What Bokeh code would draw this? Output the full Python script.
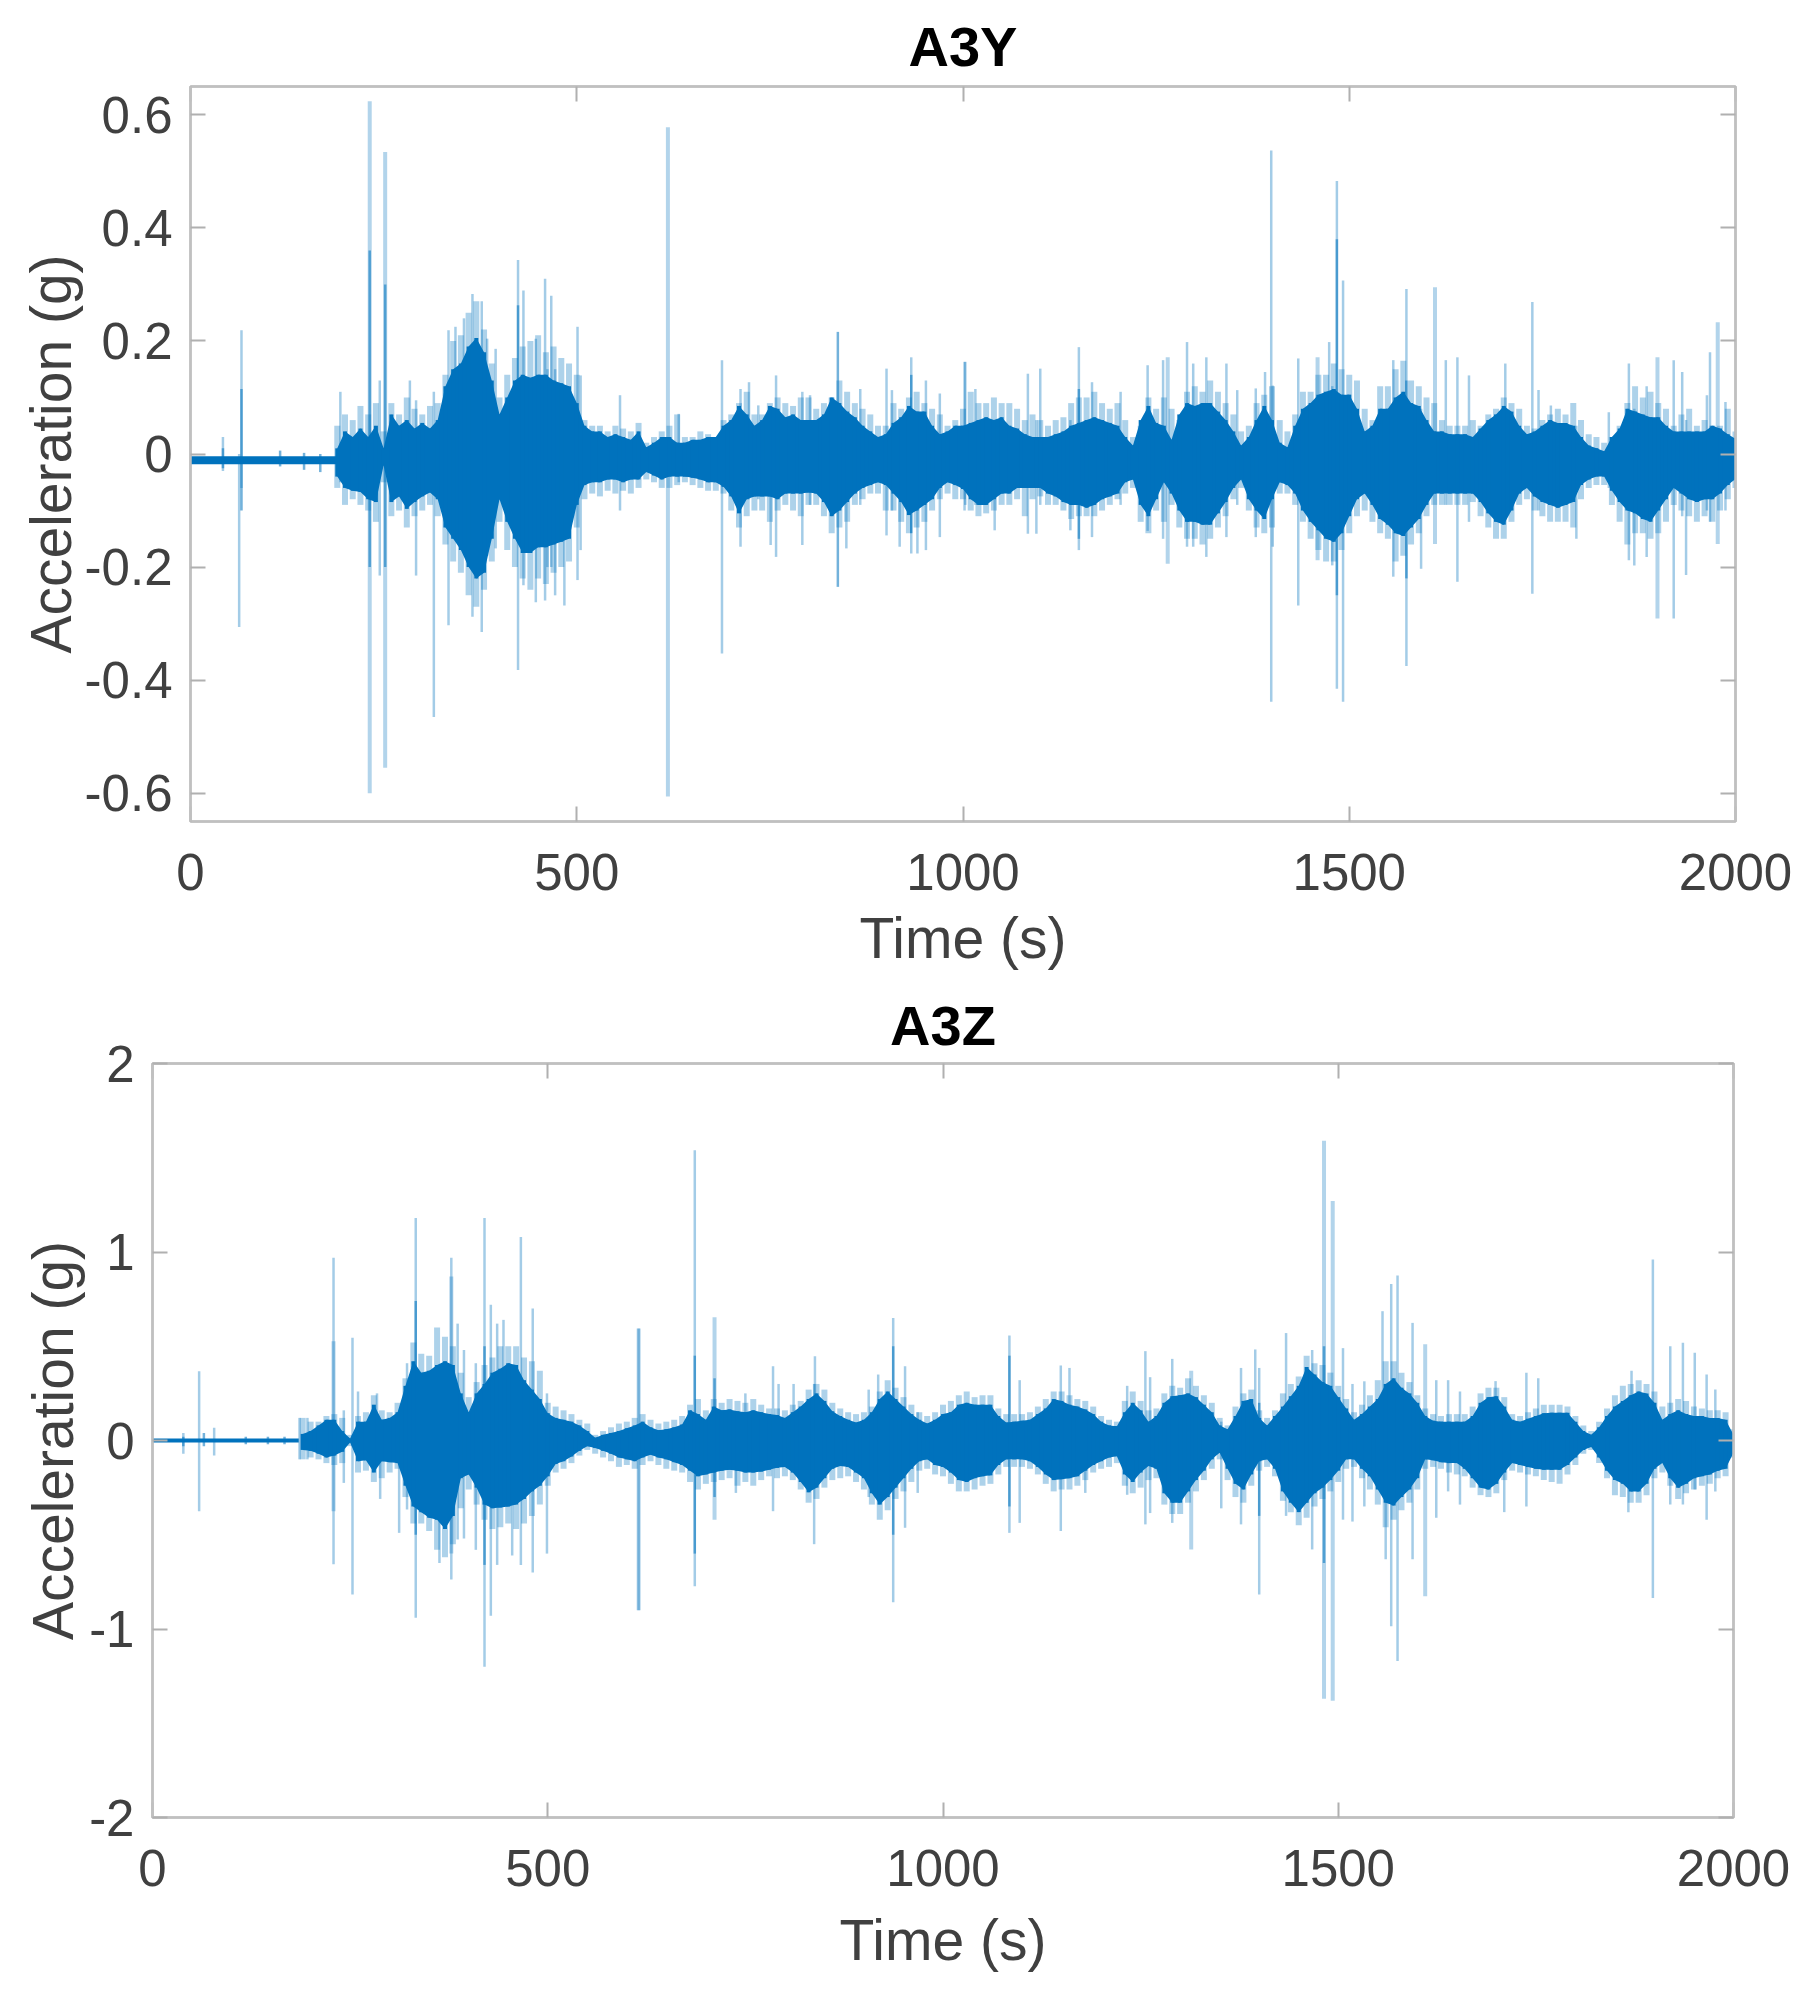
from bokeh.embed import file_html
from bokeh.resources import INLINE
from bokeh.plotting import figure
from bokeh.layouts import column, row
from bokeh.models import LinearAxis, FixedTicker, Range1d

BLUE = "#0072BD"
X_TICKS = [0, 500, 1000, 1500, 2000]
X_LABELS = ["0", "500", "1000", "1500", "2000"]
ENV_T = list(range(190, 2001, 10))

# ---------- A3Y ----------
Y_TICKS_A = [-0.6, -0.4, -0.2, 0, 0.2, 0.4, 0.6]
Y_LABELS_A = ["-0.6", "-0.4", "-0.2", "0", "0.2", "0.4", "0.6"]
QUIET_T_A = [0, 189]
QUIET_HI_A = [-0.004, -0.004]
QUIET_LO_A = [-0.018, -0.018]
CORE_HI_A = [.01,
 .04,.03,.045,.03,.05,.01,.07,.05,.06,.045,
 .055,.045,.06,.12,.15,.16,.19,.205,.18,.13,
 .07,.10,.13,.14,.135,.14,.14,.13,.125,.12,
 .09,.05,.04,.04,.03,.035,.03,.025,.04,.012,
 .02,.03,.03,.02,.02,.025,.025,.03,.03,.05,
 .06,.085,.07,.05,.06,.085,.08,.065,.07,.06,
 .06,.06,.07,.10,.09,.075,.065,.05,.04,.03,
 .035,.055,.065,.085,.075,.075,.05,.035,.04,.05,
 .05,.055,.06,.065,.06,.065,.05,.045,.035,.03,
 .03,.03,.035,.04,.05,.055,.06,.065,.06,.055,
 .05,.03,.015,.06,.085,.055,.05,.025,.07,.09,
 .085,.09,.09,.075,.06,.04,.015,.03,.06,.085,
 .06,.02,.012,.05,.08,.09,.105,.11,.115,.105,
 .105,.08,.04,.05,.08,.08,.10,.11,.09,.085,
 .06,.04,.04,.035,.035,.035,.03,.045,.06,.07,
 .085,.075,.05,.035,.04,.05,.06,.055,.055,.05,
 .03,.015,.01,.005,.03,.045,.08,.075,.07,.065,
 .065,.05,.04,.04,.04,.04,.04,.05,.045,.035,
 .027]
CORE_LO_A = [-.04,
 -.06,-.065,-.067,-.08,-.085,-.02,-.085,-.075,-.097,-.085,
 -.075,-.068,-.08,-.13,-.15,-.17,-.20,-.22,-.21,-.15,
 -.08,-.12,-.15,-.175,-.175,-.165,-.165,-.16,-.155,-.15,
 -.09,-.055,-.05,-.05,-.045,-.045,-.05,-.045,-.045,-.032,
 -.038,-.045,-.04,-.04,-.04,-.042,-.045,-.05,-.05,-.058,
 -.075,-.105,-.08,-.075,-.075,-.075,-.08,-.07,-.07,-.07,
 -.068,-.07,-.085,-.11,-.10,-.085,-.07,-.06,-.055,-.05,
 -.055,-.07,-.085,-.108,-.10,-.09,-.08,-.06,-.05,-.055,
 -.062,-.08,-.09,-.09,-.08,-.07,-.07,-.06,-.06,-.06,
 -.06,-.07,-.075,-.085,-.09,-.09,-.095,-.09,-.08,-.075,
 -.07,-.05,-.045,-.09,-.11,-.08,-.05,-.07,-.10,-.12,
 -.12,-.125,-.125,-.105,-.085,-.06,-.045,-.08,-.10,-.115,
 -.08,-.05,-.055,-.07,-.10,-.12,-.135,-.15,-.155,-.14,
 -.11,-.08,-.07,-.09,-.115,-.125,-.14,-.145,-.13,-.115,
 -.09,-.07,-.07,-.07,-.07,-.07,-.07,-.085,-.105,-.12,
 -.125,-.10,-.07,-.06,-.075,-.085,-.09,-.095,-.09,-.085,
 -.055,-.045,-.04,-.04,-.065,-.085,-.10,-.105,-.115,-.12,
 -.10,-.08,-.06,-.07,-.08,-.085,-.08,-.08,-.07,-.055,
 -.044]
HALO_HI_A = [.05,
 .07,.06,.085,.07,.09,.04,.09,.07,.10,.08,
 .07,.085,.09,.14,.20,.21,.25,.27,.22,.16,
 .10,.14,.17,.19,.20,.21,.18,.19,.17,.16,
 .14,.06,.05,.05,.04,.05,.045,.04,.055,.02,
 .03,.04,.05,.07,.03,.03,.04,.035,.03,.06,
 .07,.09,.11,.07,.07,.09,.10,.09,.085,.10,
 .10,.08,.09,.10,.13,.11,.09,.08,.07,.05,
 .05,.09,.08,.10,.11,.09,.08,.07,.05,.06,
 .08,.11,.09,.09,.10,.09,.09,.08,.06,.07,
 .06,.05,.06,.065,.09,.10,.10,.11,.09,.08,
 .09,.06,.03,.05,.10,.08,.10,.08,.06,.11,
 .12,.11,.13,.11,.09,.07,.04,.05,.09,.105,
 .12,.06,.04,.07,.11,.11,.14,.14,.16,.15,
 .14,.13,.08,.06,.12,.12,.15,.165,.13,.12,
 .10,.09,.06,.05,.05,.05,.06,.05,.07,.08,
 .10,.09,.08,.05,.045,.06,.07,.08,.07,.09,
 .06,.035,.03,.02,.03,.05,.09,.12,.10,.11,
 .09,.08,.05,.07,.08,.05,.06,.05,.05,.08,
 .04]
HALO_LO_A = [-.06,
 -.09,-.08,-.09,-.10,-.12,-.05,-.11,-.10,-.13,-.11,
 -.10,-.09,-.11,-.16,-.19,-.21,-.25,-.27,-.24,-.19,
 -.12,-.17,-.20,-.22,-.24,-.22,-.23,-.21,-.20,-.19,
 -.13,-.08,-.07,-.075,-.065,-.07,-.065,-.07,-.06,-.045,
 -.05,-.06,-.06,-.055,-.05,-.055,-.06,-.065,-.065,-.07,
 -.10,-.13,-.11,-.10,-.10,-.12,-.10,-.09,-.10,-.11,
 -.09,-.09,-.11,-.14,-.13,-.12,-.09,-.08,-.07,-.07,
 -.10,-.10,-.12,-.14,-.13,-.12,-.10,-.08,-.07,-.08,
 -.08,-.10,-.11,-.105,-.10,-.09,-.09,-.08,-.11,-.08,
 -.075,-.09,-.09,-.10,-.115,-.11,-.11,-.11,-.10,-.09,
 -.08,-.07,-.06,-.12,-.14,-.10,-.12,-.09,-.13,-.15,
 -.15,-.16,-.15,-.13,-.11,-.08,-.06,-.10,-.13,-.14,
 -.13,-.07,-.07,-.09,-.12,-.15,-.17,-.19,-.19,-.17,
 -.14,-.11,-.10,-.12,-.14,-.15,-.19,-.18,-.16,-.14,
 -.11,-.09,-.09,-.09,-.09,-.09,-.085,-.11,-.13,-.15,
 -.15,-.12,-.09,-.08,-.10,-.11,-.12,-.12,-.12,-.13,
 -.08,-.06,-.055,-.055,-.09,-.12,-.16,-.14,-.14,-.15,
 -.14,-.12,-.09,-.10,-.11,-.12,-.11,-.12,-.10,-.08,
 -.06]
SPIKE_T_A = [42, 63, 66, 194, 245, 284, 292, 315, 334, 343, 354, 365, 377, 384, 395, 424, 431, 447, 459, 462, 467, 472, 484, 501, 505, 556, 632, 688, 712, 723, 735, 751, 758, 792, 802, 849, 867, 901, 908, 918, 933, 941, 952, 970, 1002, 1016, 1003, 1041, 1084, 1095, 1100, 1139, 1150, 1167, 1204, 1239, 1259, 1290, 1298, 1315, 1341, 1355, 1379, 1391, 1399, 1401, 1434, 1474, 1478, 1484, 1492, 1557, 1574, 1593, 1625, 1640, 1655, 1702, 1737, 1745, 1761, 1794, 1836, 1862, 1869, 1885, 1920, 1931, 1936, 1963, 1967, 1987]
SPIKE_HI_A = [0.03, 0.0, 0.219, 0.11, 0.13, 0.13, 0.095, 0.11, 0.219, 0.225, 0.24, 0.283, 0.27, 0.204, 0.186, 0.343, 0.289, 0.204, 0.31, 0.15, 0.28, 0.15, 0.1, 0.225, 0.139, 0.104, 0.071, 0.166, 0.115, 0.127, 0.086, 0.05, 0.139, 0.11, 0.104, 0.05, 0.115, 0.151, 0.113, 0.06, 0.171, 0.06, 0.13, 0.107, 0.163, 0.115, 0.163, 0.06, 0.142, 0.06, 0.151, 0.06, 0.189, 0.127, 0.11, 0.157, 0.166, 0.198, 0.16, 0.171, 0.16, 0.113, 0.116, 0.145, 0.537, 0.121, 0.169, 0.198, 0.12, 0.483, 0.307, 0.166, 0.292, 0.08, 0.166, 0.171, 0.139, 0.16, 0.269, 0.113, 0.086, 0.05, 0.074, 0.16, 0.08, 0.12, 0.166, 0.145, 0.06, 0.104, 0.18, 0.092]
SPIKE_LO_A = [-0.03, -0.306, -0.06, -0.05, -0.215, -0.09, -0.215, -0.465, -0.303, -0.15, -0.17, -0.288, -0.315, -0.18, -0.167, -0.382, -0.232, -0.262, -0.259, -0.2, -0.2, -0.25, -0.268, -0.223, -0.17, -0.1, -0.05, -0.353, -0.164, -0.08, -0.08, -0.161, -0.182, -0.161, -0.09, -0.167, -0.09, -0.144, -0.1, -0.164, -0.176, -0.176, -0.17, -0.147, -0.1, -0.09, -0.09, -0.135, -0.141, -0.141, -0.09, -0.135, -0.17, -0.147, -0.09, -0.136, -0.15, -0.164, -0.164, -0.182, -0.147, -0.09, -0.147, -0.1, -0.438, -0.164, -0.268, -0.12, -0.197, -0.415, -0.438, -0.217, -0.375, -0.203, -0.09, -0.226, -0.12, -0.11, -0.247, -0.1, -0.08, -0.15, -0.06, -0.188, -0.197, -0.182, -0.291, -0.11, -0.214, -0.1, -0.12, -0.1]
WIDE_T_A = [232, 252, 618, 1265, 1459, 1611, 1899, 1977]
WIDE_HI_A = [0.624, 0.534, 0.578, 0.171, 0.171, 0.295, 0.171, 0.233]
WIDE_LO_A = [-0.6, -0.555, -0.606, -0.194, -0.188, -0.159, -0.291, -0.159]
DARK_T_A = [42, 66, 116, 147, 168, 232, 252, 424, 838, 933, 1150, 1484, 1574]
DARK_HI_A = [0.01, 0.115, 0.006, 0.002, 0.0, 0.36, 0.3, 0.263, 0.216, 0.14, 0.115, 0.38, 0.13]
DARK_LO_A = [-0.025, -0.1, -0.022, -0.028, -0.032, -0.2, -0.2, -0.15, -0.235, -0.14, -0.15, -0.25, -0.22]

# ---------- A3Z ----------
Y_TICKS_B = [-2, -1, 0, 1, 2]
Y_LABELS_B = ["-2", "-1", "0", "1", "2"]
QUIET_T_B = [0, 185]
QUIET_HI_B = [0.01, 0.01]
QUIET_LO_B = [-0.01, -0.01]
CORE_HI_B = [.035,
 .05,.08,.11,.11,.05,.01,.10,.10,.19,.11,
 .12,.15,.29,.42,.36,.37,.40,.42,.40,.25,
 .15,.25,.30,.36,.38,.41,.40,.32,.27,.22,
 .145,.12,.11,.10,.08,.05,.015,.03,.04,.05,
 .065,.08,.10,.07,.055,.06,.07,.085,.16,.14,
 .11,.18,.16,.165,.155,.15,.16,.15,.14,.135,
 .12,.15,.18,.22,.25,.21,.155,.13,.11,.095,
 .11,.15,.22,.26,.22,.18,.14,.11,.09,.11,
 .14,.15,.19,.20,.19,.19,.19,.13,.095,.10,
 .105,.11,.14,.17,.22,.21,.19,.18,.165,.14,
 .10,.08,.076,.15,.20,.16,.10,.13,.20,.235,
 .24,.25,.23,.19,.15,.08,.06,.13,.21,.22,
 .12,.08,.13,.18,.235,.29,.39,.35,.31,.29,
 .23,.17,.11,.14,.18,.22,.30,.33,.28,.25,
 .20,.13,.105,.10,.10,.10,.10,.13,.20,.23,
 .235,.18,.11,.10,.115,.13,.145,.147,.147,.147,
 .10,.05,.03,.07,.13,.18,.21,.24,.26,.25,
 .20,.11,.14,.16,.14,.13,.13,.12,.12,.11,
 .03]
CORE_LO_B = [-.05,
 -.055,-.07,-.09,-.08,-.06,-.01,-.11,-.105,-.17,-.11,
 -.115,-.12,-.24,-.35,-.38,-.41,-.42,-.47,-.40,-.20,
 -.18,-.25,-.34,-.36,-.355,-.35,-.34,-.31,-.27,-.24,
 -.19,-.125,-.11,-.085,-.055,-.03,-.04,-.055,-.07,-.09,
 -.10,-.11,-.09,-.075,-.09,-.10,-.115,-.13,-.16,-.19,
 -.18,-.17,-.16,-.155,-.16,-.17,-.17,-.165,-.155,-.145,
 -.14,-.17,-.22,-.275,-.25,-.20,-.15,-.135,-.14,-.17,
 -.20,-.28,-.34,-.30,-.25,-.20,-.15,-.11,-.10,-.13,
 -.14,-.17,-.21,-.22,-.20,-.19,-.185,-.13,-.10,-.10,
 -.10,-.11,-.14,-.18,-.21,-.205,-.20,-.19,-.16,-.13,
 -.11,-.09,-.083,-.18,-.22,-.17,-.135,-.15,-.28,-.33,
 -.33,-.27,-.21,-.16,-.10,-.065,-.15,-.23,-.26,-.18,
 -.11,-.10,-.15,-.27,-.33,-.38,-.33,-.28,-.25,-.21,
 -.16,-.10,-.10,-.15,-.19,-.26,-.33,-.345,-.30,-.26,
 -.20,-.10,-.105,-.115,-.12,-.12,-.15,-.20,-.25,-.26,
 -.23,-.17,-.12,-.13,-.14,-.15,-.155,-.155,-.155,-.13,
 -.09,-.05,-.035,-.09,-.16,-.21,-.23,-.27,-.27,-.23,
 -.15,-.12,-.20,-.25,-.23,-.20,-.19,-.18,-.16,-.15,
 -.065]
HALO_HI_B = [.12,
 .10,.10,.13,.14,.12,.03,.13,.15,.24,.16,
 .15,.20,.33,.52,.46,.45,.60,.55,.50,.36,
 .23,.31,.40,.44,.50,.50,.50,.44,.42,.37,
 .20,.18,.16,.14,.11,.09,.03,.05,.07,.09,
 .10,.12,.14,.11,.09,.10,.11,.13,.19,.22,
 .16,.22,.20,.22,.21,.20,.22,.19,.17,.17,
 .16,.19,.21,.27,.30,.27,.20,.17,.15,.14,
 .15,.18,.26,.32,.28,.23,.19,.15,.13,.15,
 .19,.21,.24,.26,.23,.24,.24,.17,.14,.14,
 .14,.15,.18,.22,.26,.26,.24,.22,.21,.18,
 .13,.11,.10,.21,.26,.21,.16,.17,.25,.29,
 .28,.33,.29,.24,.20,.12,.08,.18,.25,.27,
 .16,.12,.16,.25,.30,.34,.45,.41,.40,.36,
 .29,.22,.15,.19,.24,.32,.42,.42,.36,.31,
 .24,.17,.14,.13,.14,.14,.14,.18,.25,.28,
 .28,.23,.14,.13,.15,.17,.19,.19,.19,.18,
 .13,.08,.05,.10,.17,.24,.29,.30,.32,.30,
 .26,.18,.20,.22,.21,.18,.17,.16,.16,.15,
 .06]
HALO_LO_B = [-.10,
 -.09,-.10,-.12,-.13,-.12,-.03,-.17,-.16,-.22,-.20,
 -.17,-.15,-.30,-.44,-.44,-.48,-.58,-.62,-.55,-.36,
 -.26,-.34,-.42,-.47,-.46,-.44,-.47,-.44,-.40,-.34,
 -.24,-.17,-.15,-.12,-.08,-.05,-.07,-.09,-.11,-.14,
 -.13,-.15,-.13,-.11,-.13,-.15,-.16,-.17,-.22,-.26,
 -.23,-.22,-.21,-.20,-.24,-.22,-.24,-.21,-.19,-.20,
 -.19,-.21,-.26,-.33,-.31,-.25,-.21,-.20,-.19,-.22,
 -.26,-.34,-.42,-.37,-.31,-.27,-.22,-.16,-.15,-.18,
 -.19,-.23,-.27,-.27,-.26,-.24,-.23,-.18,-.14,-.14,
 -.14,-.15,-.18,-.23,-.27,-.26,-.26,-.24,-.21,-.17,
 -.15,-.14,-.12,-.24,-.28,-.25,-.21,-.20,-.34,-.39,
 -.39,-.33,-.27,-.21,-.15,-.10,-.21,-.30,-.33,-.24,
 -.16,-.14,-.19,-.32,-.38,-.45,-.41,-.35,-.31,-.27,
 -.22,-.15,-.14,-.20,-.26,-.34,-.46,-.42,-.37,-.33,
 -.26,-.15,-.14,-.15,-.17,-.18,-.19,-.25,-.29,-.30,
 -.28,-.21,-.16,-.17,-.18,-.19,-.21,-.22,-.23,-.18,
 -.13,-.07,-.05,-.12,-.20,-.29,-.30,-.33,-.33,-.29,
 -.20,-.17,-.24,-.31,-.28,-.26,-.24,-.23,-.20,-.19,
 -.09]
SPIKE_T_B = [39, 59, 78, 186, 196, 229, 242, 253, 260, 284, 288, 312, 322, 333, 363, 378, 386, 394, 409, 420, 428, 436, 444, 455, 466, 481, 499, 615, 686, 750, 738, 785, 792, 811, 838, 837, 906, 918, 937, 952, 968, 1084, 1097, 1149, 1160, 1180, 1233, 1256, 1262, 1290, 1352, 1377, 1395, 1400, 1434, 1467, 1506, 1518, 1533, 1556, 1560, 1567, 1575, 1594, 1624, 1639, 1654, 1699, 1710, 1738, 1753, 1871, 1867, 1898, 1920, 1936, 1951, 1966, 1977]
SPIKE_HI_B = [0.04, 0.368, 0.067, 0.12, 0.12, 0.97, 0.16, 0.545, 0.26, 0.25, 0.1, 0.15, 0.41, 1.18, 0.3, 0.97, 0.62, 0.48, 0.41, 1.18, 0.72, 0.62, 0.64, 0.3, 1.08, 0.7, 0.25, 0.594, 1.54, 0.25, 0.15, 0.394, 0.3, 0.3, 0.447, 0.3, 0.27, 0.35, 0.65, 0.394, 0.15, 0.557, 0.32, 0.398, 0.385, 0.1, 0.29, 0.474, 0.336, 0.433, 0.1, 0.385, 0.483, 0.385, 0.57, 0.48, 0.49, 0.3, 0.314, 0.686, 0.2, 0.83, 0.875, 0.624, 0.32, 0.32, 0.26, 0.315, 0.1, 0.36, 0.33, 0.37, 0.2, 0.96, 0.5, 0.518, 0.465, 0.35, 0.27]
SPIKE_LO_B = [-0.07, -0.375, -0.08, -0.1, -0.1, -0.657, -0.225, -0.817, -0.1, -0.1, -0.31, -0.49, -0.366, -0.94, -0.65, -0.737, -0.525, -0.52, -0.58, -1.2, -0.93, -0.66, -0.2, -0.61, -0.66, -0.7, -0.6, -0.9, -0.773, -0.1, -0.278, -0.375, -0.1, -0.1, -0.1, -0.55, -0.3, -0.34, -0.858, -0.463, -0.278, -0.49, -0.437, -0.48, -0.1, -0.278, -0.288, -0.445, -0.385, -0.437, -0.36, -0.445, -0.1, -0.817, -0.4, -0.578, -0.42, -0.43, -0.35, -0.2, -0.63, -0.985, -1.17, -0.63, -0.41, -0.27, -0.34, -0.1, -0.38, -0.35, -0.1, -0.1, -0.38, -0.835, -0.34, -0.34, -0.26, -0.42, -0.27]
WIDE_T_B = [229, 378, 615, 711, 1314, 1482, 1493, 1610]
WIDE_HI_B = [0.527, 0.87, 0.594, 0.654, 0.37, 1.59, 1.27, 0.51]
WIDE_LO_B = [-0.375, -0.6, -0.9, -0.42, -0.578, -1.37, -1.38, -0.826]
DARK_T_B = [39, 65, 118, 146, 167, 333, 420, 686, 711, 937, 1084, 1400, 1482]
DARK_HI_B = [0.02, 0.04, 0.02, 0.02, 0.02, 0.74, 0.5, 0.45, 0.33, 0.5, 0.45, 0.2, 0.5]
DARK_LO_B = [-0.03, -0.03, -0.02, -0.02, -0.02, -0.5, -0.66, -0.6, -0.3, -0.5, -0.35, -0.4, -0.65]


def build(title, y_range, y_ticks, y_labels, quiet, core, halo,
          spikes, wide, dark, frame_w, frame_h, b_left, b_top, b_bottom, b_right,
          x_label_standoff, y_label_standoff, title_standoff):
    p = figure(output_backend="svg", toolbar_location=None,
               x_range=Range1d(0, 2000), y_range=Range1d(*y_range),
               frame_width=frame_w, frame_height=frame_h,
               min_border_left=b_left, min_border_top=b_top,
               min_border_bottom=b_bottom, min_border_right=b_right,
               x_axis_label="Time (s)", y_axis_label="Acceleration (g)")
    p.grid.visible = False
    p.outline_line_color = "#c4c4c4"
    p.outline_line_width = 2.5

    p.title.text = title
    p.title.text_font = "Liberation Sans"
    p.title.text_font_size = "56px"
    p.title.text_font_style = "bold"
    p.title.text_color = "#000000"
    p.title.align = "center"
    p.title.standoff = title_standoff

    def style(ax, ticks, labels, show, standoff=18):
        ax.ticker = FixedTicker(ticks=ticks)
        ax.major_label_overrides = {t: (l if show else "") for t, l in zip(ticks, labels)}
        ax.minor_tick_line_color = None
        ax.major_tick_in = 15
        ax.major_tick_out = 0
        ax.major_tick_line_color = "#b0b0b0"
        ax.major_tick_line_width = 2
        ax.axis_line_color = "#c0c0c0"
        ax.axis_line_width = 2.5
        ax.major_label_text_font = "Liberation Sans"
        ax.major_label_text_font_size = "51px" if show else "1px"
        ax.major_label_text_color = "#404040"
        ax.major_label_standoff = standoff if show else 0

    xa, ya = p.xaxis[0], p.yaxis[0]
    style(xa, X_TICKS, X_LABELS, True, 32)
    style(ya, y_ticks, y_labels, True, 18)
    for ax, lab in ((xa, x_label_standoff), (ya, y_label_standoff)):
        ax.axis_label_text_font = "Liberation Sans"
        ax.axis_label_text_font_size = "57px"
        ax.axis_label_text_font_style = "normal"
        ax.axis_label_text_color = "#404040"
        ax.axis_label_standoff = lab
    top = LinearAxis(); style(top, X_TICKS, X_LABELS, False)
    right = LinearAxis(); style(right, y_ticks, y_labels, False)
    p.add_layout(top, "above")
    p.add_layout(right, "right")

    qt, qh, ql = quiet
    p.varea(x=qt, y1=ql, y2=qh, fill_color=BLUE)
    for (t, h, l), w, a in ((wide, 4, 0.3), (spikes, 2.5, 0.36), (dark, 2.5, 0.55)):
        p.segment(x0=t, y0=h, x1=t, y1=l, line_color=BLUE, line_width=w, line_alpha=a)
    ch, cl = core
    hh, hl = halo
    p.segment(x0=ENV_T, y0=hh, x1=ENV_T, y1=hl, line_color=BLUE, line_width=6, line_alpha=0.32)
    p.varea(x=ENV_T, y1=cl, y2=ch, fill_color=BLUE)
    p.segment(x0=ENV_T, y0=ch, x1=ENV_T, y1=cl, line_color=BLUE, line_width=4)
    return p


p1 = build("A3Y", (-0.65, 0.65), Y_TICKS_A, Y_LABELS_A,
           (QUIET_T_A, QUIET_HI_A, QUIET_LO_A), (CORE_HI_A, CORE_LO_A), (HALO_HI_A, HALO_LO_A),
           (SPIKE_T_A, SPIKE_HI_A, SPIKE_LO_A), (WIDE_T_A, WIDE_HI_A, WIDE_LO_A), (DARK_T_A, DARK_HI_A, DARK_LO_A),
           1545, 735, 190, 86, 129, 70, 13, -1, 17)
p2 = build("A3Z", (-2, 2), Y_TICKS_B, Y_LABELS_B,
           (QUIET_T_B, QUIET_HI_B, QUIET_LO_B), (CORE_HI_B, CORE_LO_B), (HALO_HI_B, HALO_LO_B),
           (SPIKE_T_B, SPIKE_HI_B, SPIKE_LO_B), (WIDE_T_B, WIDE_HI_B, WIDE_LO_B), (DARK_T_B, DARK_HI_B, DARK_LO_B),
           1581, 754, 152, 91, 172, 70, 19, 1, 13)

page = column(row(p1), row(p2), spacing=0)
open("out.html", "w").write(file_html(page, INLINE))
